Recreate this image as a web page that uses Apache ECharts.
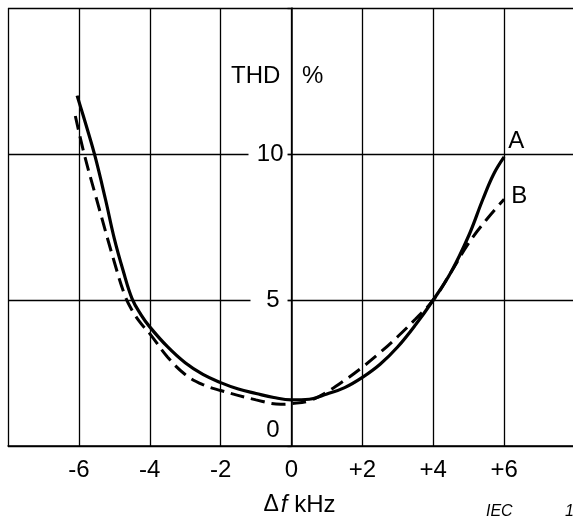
<!DOCTYPE html>
<html>
<head>
<meta charset="utf-8">
<script src="https://cdn.jsdelivr.net/npm/echarts@6/dist/echarts.min.js"></script>
<style>
html,body{margin:0;padding:0;background:#fff;}
#chart{width:573px;height:525px;}
</style>
</head>
<body>
<div id="chart"></div>
<script>
// Curve A (solid): [delta f kHz, THD %]
var curveA = [
  [-6.05, 12.0], [-5.8, 11.0], [-5.55, 9.95], [-5.25, 8.45], [-5.0, 7.1],
  [-4.75, 6.0], [-4.5, 5.05], [-4.25, 4.5], [-4.0, 4.08], [-3.5, 3.4],
  [-3.0, 2.85], [-2.5, 2.45], [-2.0, 2.17], [-1.5, 1.95], [-1.0, 1.8],
  [-0.5, 1.66], [0.0, 1.58], [0.5, 1.6], [1.0, 1.78], [1.5, 2.0],
  [2.0, 2.35], [2.5, 2.8], [3.0, 3.4], [3.5, 4.15], [4.0, 5.0],
  [4.5, 5.95], [5.0, 7.2], [5.4, 8.45], [5.7, 9.3], [6.0, 9.9]
];
// Curve B (dashed)
var curveB = [
  [-6.1, 11.3], [-5.85, 10.0], [-5.5, 8.45], [-5.0, 6.3], [-4.7, 5.15],
  [-4.5, 4.65], [-4.25, 4.2], [-4.0, 3.85], [-3.5, 3.05], [-3.0, 2.45],
  [-2.5, 2.1], [-2.0, 1.9], [-1.0, 1.58], [-0.3, 1.43], [0.0, 1.45],
  [0.5, 1.55], [1.0, 1.85], [1.5, 2.25], [2.0, 2.7], [2.5, 3.2],
  [3.0, 3.75], [3.5, 4.35], [4.0, 5.0], [4.5, 5.95], [5.0, 6.95],
  [5.5, 7.75], [6.0, 8.45]
];
var seriesNames = ['A', 'B'];
var xTicks = [-8, -6, -4, -2, 0, 2, 4, 6, 8];
var yTicks = [0, 5, 10, 15];

var FONT = 'Liberation Sans, Arial, sans-serif';
var FS = 24;
var GRID_LEFT = 8, GRID_W = 567;
var chart = echarts.init(document.getElementById('chart'), null, {renderer: 'canvas'});
chart.setOption({
  backgroundColor: '#fff',
  animation: false,
  grid: {left: GRID_LEFT, top: 8, width: GRID_W, height: 438, containLabel: false, outerBoundsMode: 'none'},
  xAxis: {
    type: 'value', min: xTicks[0], max: xTicks[xTicks.length - 1], interval: 2,
    axisLine: {onZero: false, lineStyle: {color: '#000', width: 1.5}},
    axisTick: {show: false},
    splitLine: {show: true, lineStyle: {color: '#000', width: 1.3}},
    axisLabel: {
      margin: 12, color: '#000', fontFamily: FONT, fontSize: FS,
      formatter: function (v) {
        if (v === xTicks[0] || v === xTicks[xTicks.length - 1]) return '';
        return v > 0 ? '+' + v : String(v);
      }
    },
    name: '{d|\u0394}{f|f}{k| kHz}',
    nameLocation: 'middle', nameGap: 47,
    nameTextStyle: {
      color: '#000', fontFamily: FONT, fontSize: FS, padding: [0, 0, 0, 16],
      rich: {
        d: {fontFamily: FONT, fontSize: 23, color: '#000'},
        f: {fontFamily: FONT, fontSize: FS, fontStyle: 'italic', color: '#000', padding: [0, 0, 0, 2]},
        k: {fontFamily: FONT, fontSize: FS, color: '#000'}
      }
    }
  },
  yAxis: {
    type: 'value', min: yTicks[0], max: yTicks[yTicks.length - 1], interval: 5,
    position: 'left',
    offset: -GRID_W / 2,
    axisLine: {show: true, onZero: false, lineStyle: {color: '#000', width: 1.5}},
    axisTick: {show: true, length: 4, lineStyle: {color: '#000', width: 1.3}},
    splitLine: {show: true, lineStyle: {color: '#000', width: 1.3}},
    axisLabel: {
      margin: 4, color: '#000', fontFamily: FONT, fontSize: FS,
      formatter: function (v) {
        if (v === yTicks[yTicks.length - 1]) return '';
        if (v === 0) return '{z|0}';
        return (String(v).length > 1 ? '{b|' : '{c|') + v + '}';
      },
      rich: {
        b: {fontFamily: FONT, fontSize: FS, color: '#000', backgroundColor: '#fff',
            width: 31, align: 'right', padding: [3, 4, 3, 4]},
        c: {fontFamily: FONT, fontSize: FS, color: '#000', backgroundColor: '#fff',
            width: 25, align: 'right', padding: [3, 8, 3, 4]},
        z: {fontFamily: FONT, fontSize: FS, color: '#000', padding: [0, 8, 32, 4]}
      }
    }
  },
  graphic: [
    {type: 'text', left: 231, top: 64, z: 100,
     style: {text: 'THD', fontFamily: FONT, fontSize: FS, fill: '#000'}},
    {type: 'text', left: 302, top: 64, z: 100,
     style: {text: '%', fontFamily: FONT, fontSize: FS, fill: '#000'}},
    {type: 'text', left: 486, top: 504, z: 100,
     style: {text: 'IEC', fontFamily: FONT, fontSize: 16, fontStyle: 'italic', fill: '#000'}},
    {type: 'text', left: 565, top: 504, z: 100,
     style: {text: '1', fontFamily: FONT, fontSize: 16, fontStyle: 'italic', fill: '#000'}}
  ],
  series: [
    {
      name: seriesNames[0], type: 'line', data: curveA, smooth: 0.4,
      showSymbol: false, symbol: 'none', z: 5,
      lineStyle: {color: '#000', width: 3.2, type: 'solid'},
      endLabel: {show: true, formatter: seriesNames[0], color: '#000', fontFamily: FONT,
                 fontSize: FS, offset: [0, -16], distance: 4}
    },
    {
      name: seriesNames[1], type: 'line', data: curveB, smooth: 0.4,
      showSymbol: false, symbol: 'none', z: 4,
      lineStyle: {color: '#000', width: 3, type: [14, 7]},
      endLabel: {show: true, formatter: seriesNames[1], color: '#000', fontFamily: FONT,
                 fontSize: FS, offset: [3, -3], distance: 4}
    }
  ]
});
</script>
</body>
</html>
